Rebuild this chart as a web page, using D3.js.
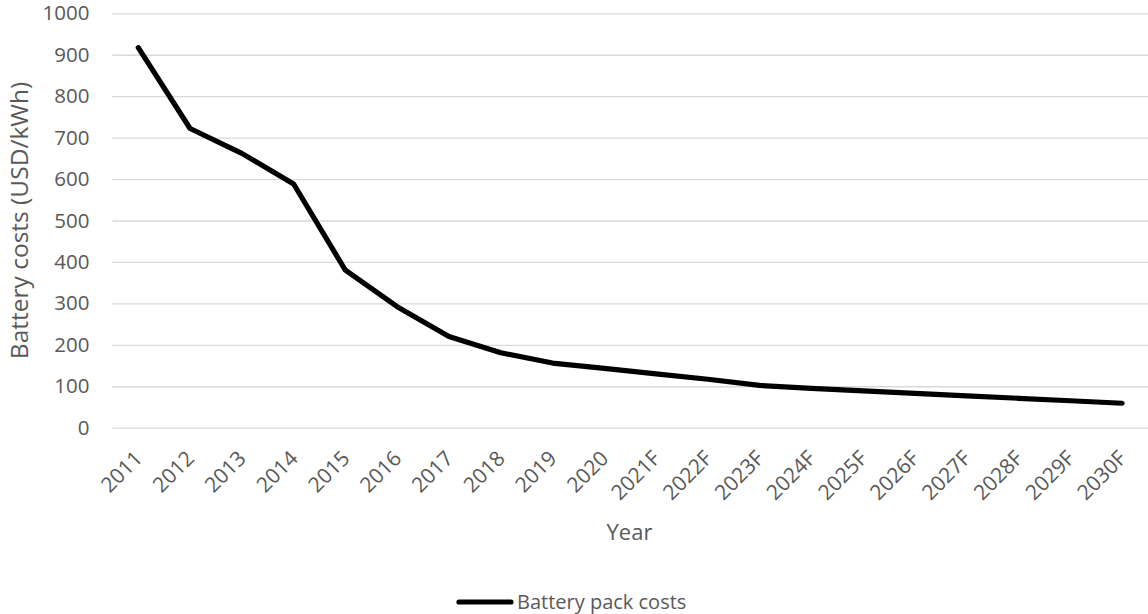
<!DOCTYPE html>
<html>
<head>
<meta charset="utf-8">
<script src="https://cdn.jsdelivr.net/npm/d3@7"></script>
<style>
  html, body { margin: 0; padding: 0; background: #fff; }
  svg { display: block; }
  svg text { font-family: "Open Sans", "Noto Sans", sans-serif; }
</style>
</head>
<body>
<svg id="chart" width="1148" height="614"></svg>
<script>
// Battery pack price history and forecast
const years = ["2011","2012","2013","2014","2015","2016","2017","2018","2019","2020",
               "2021F","2022F","2023F","2024F","2025F","2026F","2027F","2028F","2029F","2030F"];
const packCosts = [917, 722, 662, 588, 380, 292, 220, 181, 156, 143,
                   130, 117, 102, 95, 89, 83, 77, 71, 65, 59];
const yTicks = [0, 100, 200, 300, 400, 500, 600, 700, 800, 900, 1000];
const seriesName = "Battery pack costs";
const yTitle = "Battery costs (USD/kWh)";
const xTitle = "Year";

const svg = d3.select("#chart");
const margin = { left: 112.4, right: 0, top: 13.3, bottom: 186.3 };
const W = 1148, H = 614;

const x = d3.scalePoint()
  .domain(years)
  .range([margin.left, W - margin.right])
  .padding(0.5);

const y = d3.scaleLinear()
  .domain([0, 1000])
  .range([H - margin.bottom, margin.top]);

const textColor = "#595959";

// horizontal gridlines with value labels
const yAxis = d3.axisLeft(y)
  .tickValues(yTicks)
  .tickFormat(d3.format("d"))
  .tickSize(-(W - margin.left - margin.right))
  .tickPadding(23);
const gy = svg.append("g").attr("transform", `translate(${margin.left},0)`).call(yAxis);
gy.select(".domain").remove();
gy.selectAll(".tick line").attr("stroke", "#d9d9d9").attr("stroke-width", 1.3);
gy.selectAll(".tick text")
  .attr("fill", textColor)
  .style("font-size", "20.5px");

// category labels, rotated
const xAxis = d3.axisBottom(x).tickSize(0).tickPadding(0);
const gx = svg.append("g").attr("transform", `translate(0,${y(0)})`).call(xAxis);
gx.select(".domain").remove();
gx.selectAll(".tick text")
  .attr("fill", textColor)
  .style("font-size", "21px")
  .attr("text-anchor", "end")
  .attr("dy", null)
  .attr("y", 0)
  .attr("transform", "translate(5,32) rotate(-45)");

// the cost curve
const line = d3.line()
  .x((d, i) => x(years[i]))
  .y(d => y(d));

svg.append("path")
  .datum(packCosts)
  .attr("fill", "none")
  .attr("stroke", "#000")
  .attr("stroke-width", 5.2)
  .attr("stroke-linejoin", "round")
  .attr("stroke-linecap", "round")
  .attr("d", line);

// axis titles
svg.append("text")
  .attr("transform", `translate(28,${(y(0) + y(1000)) / 2}) rotate(-90)`)
  .attr("text-anchor", "middle")
  .attr("fill", textColor)
  .style("font-size", "24.5px")
  .text(yTitle);

svg.append("text")
  .attr("x", 629.5)
  .attr("y", 540)
  .attr("text-anchor", "middle")
  .attr("fill", textColor)
  .style("font-size", "22px")
  .text(xTitle);

// legend
const lg = svg.append("g").attr("transform", "translate(0,602)");
lg.append("line")
  .attr("x1", 459).attr("x2", 511)
  .attr("y1", 0).attr("y2", 0)
  .attr("stroke", "#000").attr("stroke-width", 5.2).attr("stroke-linecap", "round");
lg.append("text")
  .attr("x", 517).attr("y", 6.5)
  .attr("fill", textColor)
  .style("font-size", "20px")
  .text(seriesName);
</script>
</body>
</html>
